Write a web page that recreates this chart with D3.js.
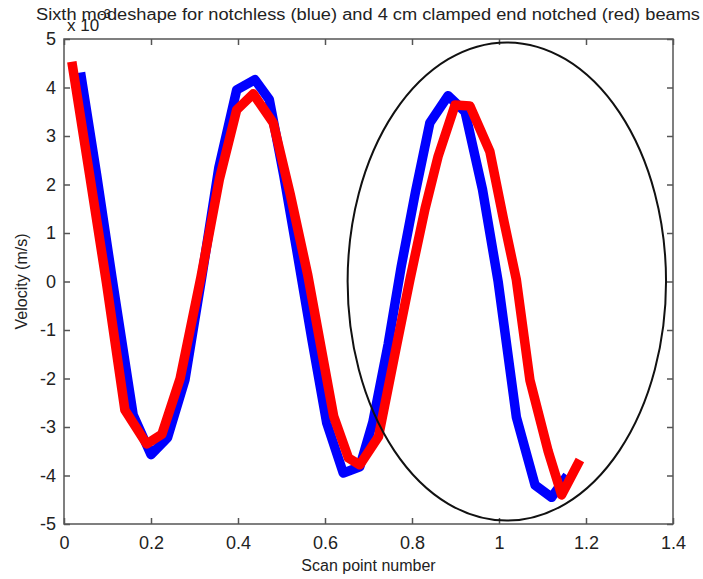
<!DOCTYPE html>
<html>
<head>
<meta charset="utf-8">
<script src="https://cdn.jsdelivr.net/npm/d3@7"></script>
<style>
  html, body { margin: 0; padding: 0; background: #fff; }
  svg { display: block; }
  text { font-family: "Liberation Sans", Arial, sans-serif; fill: #222; }
</style>
</head>
<body>
<svg id="chart" width="703" height="579"></svg>
<script>
const titleText = "Sixth modeshape for notchless (blue) and 4 cm clamped end notched (red) beams";
const xLabel = "Scan point number";
const yLabel = "Velocity (m/s)";
const xTicks = [0, 0.2, 0.4, 0.6, 0.8, 1, 1.2, 1.4];
const yTicks = [-5, -4, -3, -2, -1, 0, 1, 2, 3, 4, 5];

// notchless beam (blue), velocity in units of 1e-3 m/s
const blueX = [0.038, 0.075, 0.11, 0.159, 0.2, 0.238, 0.278, 0.316, 0.356, 0.397, 0.439, 0.472, 0.505, 0.535, 0.57, 0.604, 0.642, 0.68, 0.71, 0.745, 0.775, 0.808, 0.841, 0.883, 0.922, 0.962, 0.998, 1.04, 1.083, 1.121, 1.157];
const blueY = [4.31, 2.2, 0.1, -2.75, -3.57, -3.22, -2.03, 0.05, 2.35, 3.95, 4.16, 3.75, 2.2, 0.65, -1.2, -2.92, -3.95, -3.82, -2.9, -1.3, 0.3, 1.85, 3.27, 3.83, 3.5, 1.9, 0.0, -2.8, -4.2, -4.45, -4.0];

// 4 cm clamped end notched beam (red)
const redX = [0.018, 0.058, 0.098, 0.14, 0.19, 0.225, 0.267, 0.315, 0.357, 0.397, 0.435, 0.481, 0.52, 0.56, 0.62, 0.654, 0.68, 0.723, 0.765, 0.795, 0.83, 0.86, 0.899, 0.933, 0.979, 1.01, 1.04, 1.071, 1.113, 1.144, 1.186];
const redY = [4.53, 2.25, -0.05, -2.65, -3.35, -3.15, -2.0, 0.1, 2.1, 3.54, 3.87, 3.27, 1.8, 0.15, -2.78, -3.64, -3.78, -3.2, -1.3, 0.03, 1.5, 2.58, 3.64, 3.62, 2.68, 1.3, 0.03, -2.03, -3.5, -4.4, -3.68];

// highlight ellipse (data units): center x, center y, radius x, radius y
const ellipseCenter = [1.018, 0.0];
const ellipseRadii = [0.366, 4.93];

const svg = d3.select("#chart");
const mLeft = 64, mRight = 673, mTop = 39, mBottom = 524;

const x = d3.scaleLinear().domain([0, 1.4]).range([mLeft, mRight]);
const y = d3.scaleLinear().domain([-5, 5]).range([mBottom, mTop]);

const axisColor = "#555";
const tickLen = 6;

svg.append("rect")
  .attr("x", mLeft).attr("y", mTop)
  .attr("width", mRight - mLeft).attr("height", mBottom - mTop)
  .attr("fill", "none").attr("stroke", axisColor).attr("stroke-width", 1.5);

const fmt = d => String(d);
const xAxisB = d3.axisBottom(x).tickValues(xTicks).tickSize(-tickLen).tickPadding(12).tickFormat(fmt);
const gxb = svg.append("g").attr("transform", `translate(0,${mBottom})`).call(xAxisB);
const xAxisT = d3.axisTop(x).tickValues(xTicks).tickSize(-tickLen).tickFormat("");
const gxt = svg.append("g").attr("transform", `translate(0,${mTop})`).call(xAxisT);
const yAxisL = d3.axisLeft(y).tickValues(yTicks).tickSize(-tickLen).tickPadding(8).tickFormat(fmt);
const gyl = svg.append("g").attr("transform", `translate(${mLeft},0)`).call(yAxisL);
const yAxisR = d3.axisRight(y).tickValues(yTicks).tickSize(-tickLen).tickFormat("");
const gyr = svg.append("g").attr("transform", `translate(${mRight},0)`).call(yAxisR);

[gxb, gxt, gyl, gyr].forEach(g => {
  g.select(".domain").remove();
  g.selectAll(".tick line").attr("stroke", axisColor).attr("stroke-width", 1.5);
  g.selectAll(".tick text").attr("font-size", 18).attr("fill", "#444")
    .attr("font-family", "Liberation Sans, Arial, sans-serif");
});

const line = d3.line().x(d => x(d[0])).y(d => y(d[1]));
const blue = blueX.map((v, i) => [v, blueY[i]]);
const red = redX.map((v, i) => [v, redY[i]]);

const plot = svg.append("g");
plot.append("path").datum(blue).attr("d", line)
  .attr("fill", "none").attr("stroke", "#0000ff").attr("stroke-width", 9.5)
  .attr("stroke-linejoin", "round");
plot.append("path").datum(red).attr("d", line)
  .attr("fill", "none").attr("stroke", "#ff0000").attr("stroke-width", 9.5)
  .attr("stroke-linejoin", "round");

plot.append("ellipse")
  .attr("cx", x(ellipseCenter[0])).attr("cy", y(ellipseCenter[1]))
  .attr("rx", x(ellipseCenter[0] + ellipseRadii[0]) - x(ellipseCenter[0]))
  .attr("ry", y(ellipseCenter[1]) - y(ellipseCenter[1] + ellipseRadii[1]))
  .attr("fill", "none").attr("stroke", "#111").attr("stroke-width", 2);

svg.append("text").attr("x", 67).attr("y", 31).attr("font-size", 17).attr("fill", "#444").text("x 10");
svg.append("text").attr("x", 100).attr("y", 18).attr("font-size", 12).attr("fill", "#444").text("-3");

svg.append("text").attr("x", 368).attr("y", 20).attr("text-anchor", "middle")
  .attr("font-size", 16).attr("fill", "#333")
  .attr("textLength", 664).attr("lengthAdjust", "spacingAndGlyphs")
  .text(titleText);

svg.append("text").attr("x", (mLeft + mRight) / 2).attr("y", 571).attr("text-anchor", "middle")
  .attr("font-size", 16).attr("fill", "#444").text(xLabel);
svg.append("text").attr("transform", `translate(27,${(mTop + mBottom) / 2}) rotate(-90)`)
  .attr("text-anchor", "middle").attr("font-size", 16).attr("fill", "#444").text(yLabel);
</script>
</body>
</html>
